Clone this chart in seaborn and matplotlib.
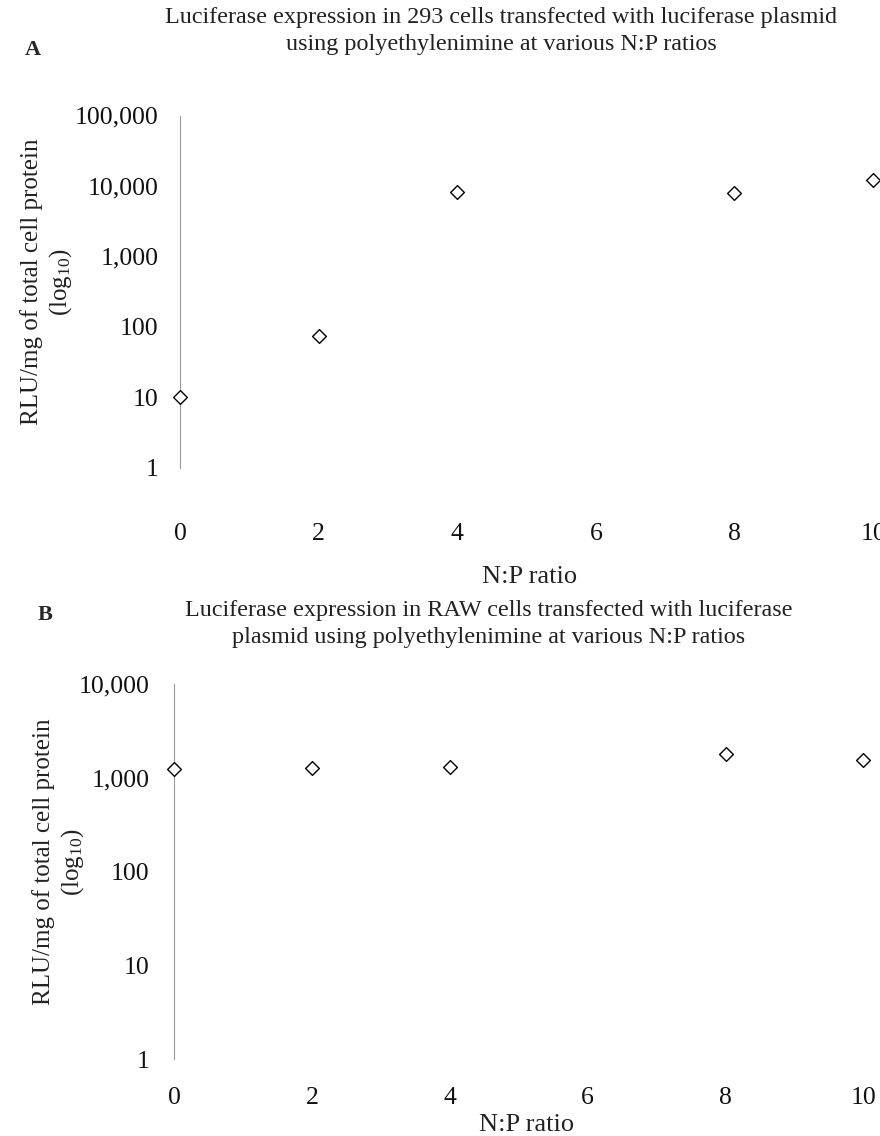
import matplotlib
matplotlib.use("Agg")
import matplotlib.pyplot as plt
import seaborn as sns
import pandas as pd
from matplotlib.ticker import FixedLocator, FuncFormatter

# ---- data ----
np_ratios = ["0", "2", "4", "6", "8", "10"]
a_ratios = ["0", "2", "4", "8", "10"]
a_rlu = [10, 75, 8000, 7800, 12000]
b_ratios = ["0", "2", "4", "8", "10"]
b_rlu = [1250, 1280, 1300, 1800, 1550]
a_yticks = [1, 10, 100, 1000, 10000, 100000]
b_yticks = [1, 10, 100, 1000, 10000]

title_a = "Luciferase expression in 293 cells transfected with luciferase plasmid\nusing polyethylenimine at various N:P ratios"
title_b = "Luciferase expression in RAW cells transfected with luciferase\nplasmid using polyethylenimine at various N:P ratios"
ylab = "RLU/mg of total cell protein\n(log$_{10}$)"
xlab = "N:P ratio"

sns.set_theme(style="white")
plt.rcParams["font.family"] = ["Liberation Serif", "DejaVu Serif"]
plt.rcParams["mathtext.fontset"] = "custom"
plt.rcParams["mathtext.rm"] = "Liberation Serif"
plt.rcParams["mathtext.it"] = "Liberation Serif:italic"

W, H = 880, 1136
fig = plt.figure(figsize=(W / 100, H / 100), dpi=100)

def px_axes(left, top, right, bottom):
    return fig.add_axes([left / W, 1 - bottom / H, (right - left) / W, (bottom - top) / H])

ax_a = px_axes(180, 115, 880, 468)
ax_b = px_axes(174, 684, 880, 1059)

fmt = FuncFormatter(lambda v, p: f"{int(round(v)):,}")
TXT = "#222222"

def draw(ax, cats, vals, yticks, xmax, ypad, xpad):
    df = pd.DataFrame({"ratio": cats, "rlu": vals})
    sns.stripplot(data=df, x="ratio", y="rlu", order=np_ratios, jitter=False,
                  marker="D", size=7, color="white", edgecolor="black",
                  linewidth=1.0, ax=ax, zorder=3)
    ax.set_yscale("log")
    ax.set_ylim(yticks[0], yticks[-1])
    ax.set_xlim(0, xmax)
    ax.yaxis.set_major_locator(FixedLocator(yticks))
    ax.yaxis.set_major_formatter(fmt)
    ax.yaxis.set_minor_locator(FixedLocator([]))
    ax.tick_params(axis="y", length=0, labelsize=18.5, pad=ypad, colors="#111111")
    ax.tick_params(axis="x", length=5, width=0.8, direction="inout", color="#aaaaaa",
                   labelsize=18.5, pad=xpad, labelcolor="#111111")
    for s in ["top", "right", "bottom"]:
        ax.spines[s].set_visible(False)
    ax.spines["left"].set_color("#999999")
    ax.spines["left"].set_linewidth(0.8)
    ax.spines["left"].set_linestyle((0, (2, 1)))
    ax.set_facecolor("white")
    ax.set_ylabel("")
    for c in ax.collections:
        c.set_clip_on(False)

draw(ax_a, a_ratios, a_rlu, a_yticks, 5.05, 15.5, 37)
draw(ax_b, b_ratios, b_rlu, b_yticks, 5.12, 17.5, 18)

ax_a.set_xlabel(xlab, fontsize=19, color=TXT, labelpad=15)
ax_b.set_xlabel(xlab, fontsize=19, color=TXT, labelpad=3)

fig.text(47 / W, 1 - 282 / H, ylab, rotation=90, ha="center", va="center",
         multialignment="center", fontsize=18, color=TXT, linespacing=1.2)
fig.text(59 / W, 1 - 862 / H, ylab, rotation=90, ha="center", va="center",
         multialignment="center", fontsize=18, color=TXT, linespacing=1.2)

fig.text(501 / W, 1 - 31 / H, title_a, ha="center", va="center", fontsize=17.4,
         color=TXT, linespacing=1.4)
fig.text(489 / W, 1 - 624 / H, title_b, ha="center", va="center", fontsize=17.4,
         color=TXT, linespacing=1.4)
fig.text(33 / W, 1 - 50 / H, "A", ha="center", va="center", fontsize=16, fontweight="bold")
fig.text(45 / W, 1 - 615 / H, "B", ha="center", va="center", fontsize=16, fontweight="bold")

fig.savefig("out.png", dpi=100, facecolor="white")
